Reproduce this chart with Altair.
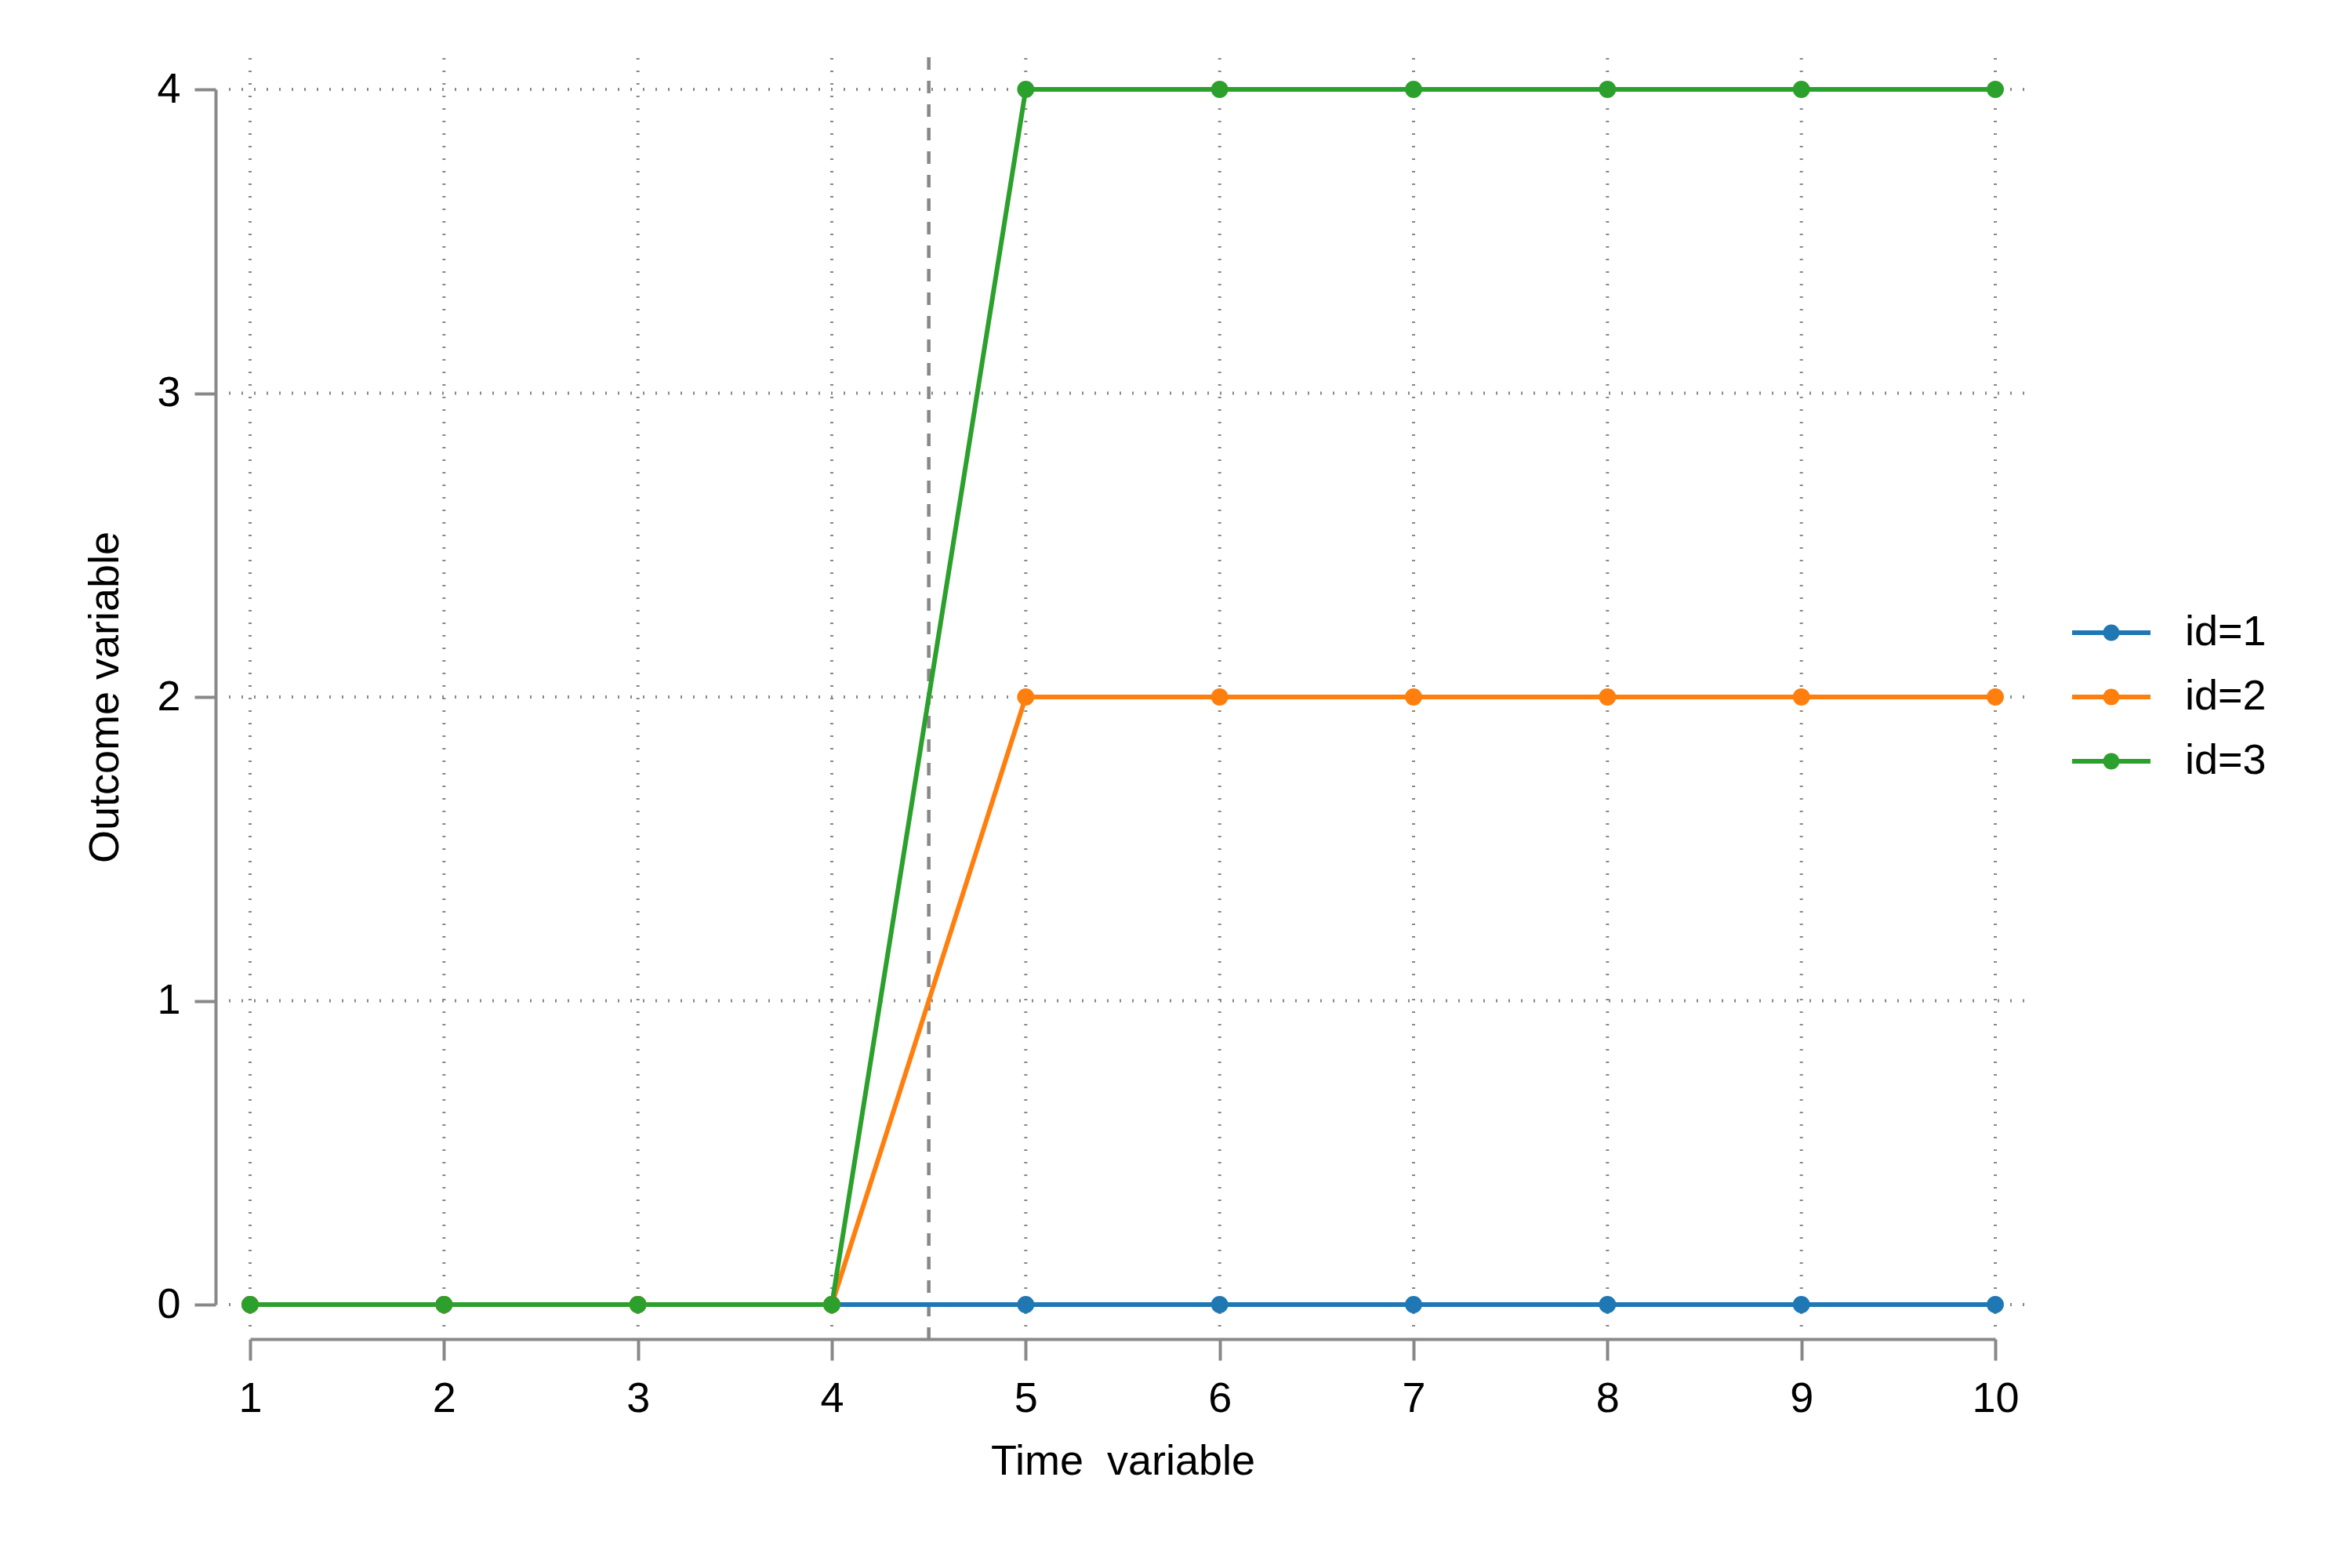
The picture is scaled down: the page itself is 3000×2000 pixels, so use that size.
import altair as alt
import pandas as pd

# ---- data ----
time = [1, 2, 3, 4, 5, 6, 7, 8, 9, 10]
id1 = [0, 0, 0, 0, 0, 0, 0, 0, 0, 0]
id2 = [0, 0, 0, 0, 2, 2, 2, 2, 2, 2]
id3 = [0, 0, 0, 0, 4, 4, 4, 4, 4, 4]
series_names = ["id=1", "id=2", "id=3"]
series_colors = ["#1f77b4", "#ff7f0e", "#2ca02c"]
x_ticks = [1, 2, 3, 4, 5, 6, 7, 8, 9, 10]
y_ticks = [0, 1, 2, 3, 4]
xline_at = [4.5]

rows = []
for name, vals in zip(series_names, [id1, id2, id3]):
    for t, v in zip(time, vals):
        rows.append({"time": t, "value": v, "id": name})
df = pd.DataFrame(rows)

FONT = "Liberation Sans Narrow, Arial Narrow, Liberation Sans, Arial"
FS = 54
W, H = 2226, 1550
GRAY = "#888888"

xscale = alt.Scale(domain=[1, 10], nice=False, zero=False)
yscale = alt.Scale(domain=[0, 4], nice=False, zero=False)
cscale = alt.Scale(domain=series_names, range=series_colors)

xaxis = alt.Axis(values=x_ticks, format="d", title="Time\u00a0 variable")
yaxis = alt.Axis(values=y_ticks, format="d", title="Outcome variable")

LEG_PATH = ("M-1,-0.06H1V0.06H-1Z "
            "M0.21,0A0.21,0.21 0 1,1 -0.21,0A0.21,0.21 0 1,1 0.21,0Z")
legend = alt.Legend(
    title=None, orient="none", legendX=2324, legendY=643,
    symbolType=LEG_PATH, symbolSize=10000, symbolStrokeWidth=0,
    symbolOpacity=1, labelFont=FONT, labelFontSize=FS,
    labelColor="black", labelOffset=44, rowPadding=5, padding=0,
)

# horizontal dotted grid
hgrid = alt.Chart(pd.DataFrame({"y": y_ticks})).mark_rule(
    color=GRAY, strokeWidth=4, strokeDash=[2, 14]
).encode(
    y=alt.Y("y:Q", scale=yscale, axis=yaxis),
    x=alt.value(-27), x2=alt.value(W + 40),
)
# vertical dotted grid
vgrid = alt.Chart(pd.DataFrame({"x": x_ticks})).mark_rule(
    color=GRAY, strokeWidth=4, strokeDash=[2, 14]
).encode(
    x=alt.X("x:Q", scale=xscale, axis=xaxis),
    y=alt.value(-40), y2=alt.value(H + 29),
)
# dashed reference line
xline = alt.Chart(pd.DataFrame({"x": xline_at})).mark_rule(
    color=GRAY, strokeWidth=4.5, strokeDash=[16, 14]
).encode(
    x=alt.X("x:Q", scale=xscale, axis=xaxis),
    y=alt.value(-41), y2=alt.value(H + 44),
)

lines = alt.Chart(df).mark_line(strokeWidth=6).encode(
    x=alt.X("time:Q", scale=xscale, axis=xaxis),
    y=alt.Y("value:Q", scale=yscale, axis=yaxis),
    color=alt.Color("id:N", scale=cscale, legend=legend),
    detail="id:N",
)
points = alt.Chart(df).mark_circle(size=480, opacity=1).encode(
    x=alt.X("time:Q", scale=xscale, axis=xaxis),
    y=alt.Y("value:Q", scale=yscale, axis=yaxis),
    color=alt.Color("id:N", scale=cscale, legend=legend),
)

chart = alt.layer(hgrid, vgrid, xline, lines, points).properties(
    width=W, height=H,
    autosize=alt.AutoSizeParams(type="none"),
    padding={"left": 311, "top": 106, "right": 440, "bottom": 320},
).configure_view(stroke=None).configure_axis(
    domainColor=GRAY, domainWidth=4, tickColor=GRAY, tickWidth=4,
    tickSize=27, offset=44, grid=False, labelFlush=False,
    labelFont=FONT, labelFontSize=FS, labelColor="black", labelPadding=18,
    titleFont=FONT, titleFontSize=FS, titleColor="black", titleFontWeight="normal",
).configure_axisX(labelPadding=22, titlePadding=26).configure_axisY(
    titlePadding=38
)

chart.save("out.html", embed_options={"renderer": "svg", "actions": False})
